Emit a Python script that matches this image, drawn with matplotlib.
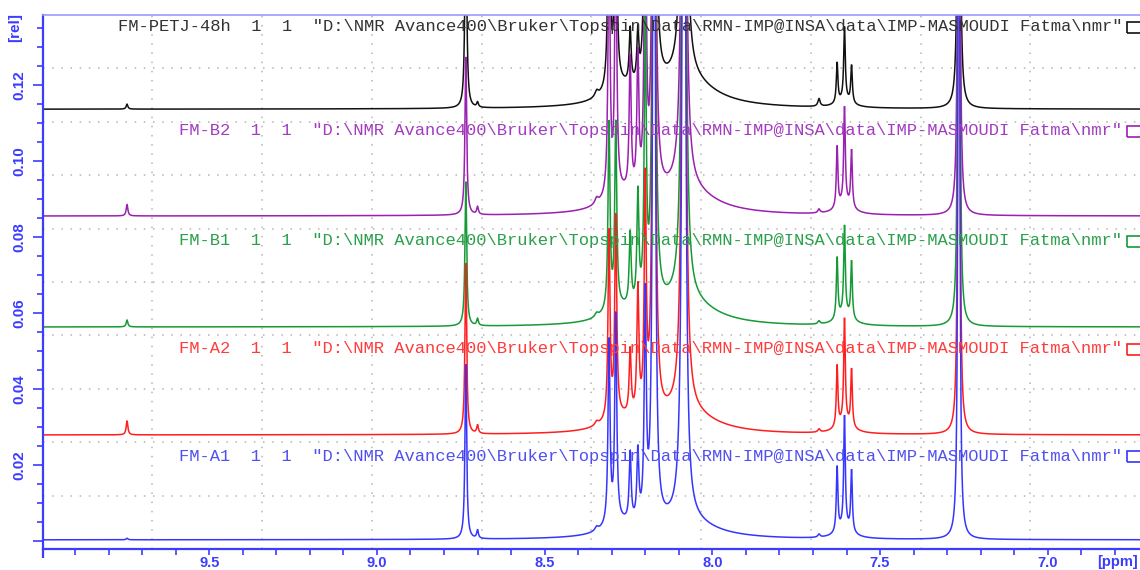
import numpy as np
import matplotlib
matplotlib.use("Agg")
import matplotlib.pyplot as plt
from matplotlib.ticker import MultipleLocator, FuncFormatter
from matplotlib.patches import Rectangle

# ---------------- data ----------------
names = ["FM-PETJ-48h", "FM-B2", "FM-B1", "FM-A2", "FM-A1"]
path_text = '"D:\\NMR Avance400\\Bruker\\Topspin\\Data\\RMN-IMP@INSA\\data\\IMP-MASMOUDI Fatma\\nmr"'
baselines = [0.1136, 0.0855, 0.0563, 0.0279, 0.0003]

# peak list (ppm, half width at half maximum in ppm)
peak_ppm = [9.745, 8.735, 8.700, 8.345, 8.308, 8.288, 8.245, 8.222, 8.200, 8.174,
            8.085, 8.085, 8.280, 7.682, 7.628, 7.606, 7.585, 7.606, 7.265]
peak_hwhm = [0.003, 0.003, 0.003, 0.006, 0.0035, 0.0035, 0.0035, 0.0035, 0.0035, 0.0035,
             0.004, 0.10, 0.05, 0.004, 0.0028, 0.0028, 0.0028, 0.025, 0.002]

heights_black = [0.0013, 0.060, 0.0013, 0.0015, 0.070, 0.070, 0.0145, 0.013, 0.090, 0.30,
                 0.40, 0.008, 0.004, 0.002, 0.0105, 0.019, 0.0098, 0.002, 0.40]
heights_purple = [0.0030, 0.0416, 0.0020, 0.0015, 0.070, 0.070, 0.035, 0.035, 0.090, 0.30,
                  0.40, 0.007, 0.004, 0.001, 0.016, 0.025, 0.015, 0.003, 0.40]
heights_green = [0.0018, 0.038, 0.0018, 0.0010, 0.049, 0.048, 0.019, 0.029, 0.075, 0.30,
                 0.40, 0.007, 0.003, 0.0008, 0.016, 0.023, 0.015, 0.003, 0.40]
heights_red = [0.0037, 0.045, 0.0022, 0.0010, 0.049, 0.052, 0.017, 0.033, 0.060, 0.30,
               0.40, 0.006, 0.003, 0.0008, 0.016, 0.027, 0.015, 0.003, 0.40]
heights_blue = [0.0004, 0.046, 0.0022, 0.0010, 0.048, 0.054, 0.018, 0.018, 0.058, 0.30,
                0.40, 0.005, 0.003, 0.0008, 0.017, 0.029, 0.016, 0.003, 0.40]
all_heights = [heights_black, heights_purple, heights_green, heights_red, heights_blue]

line_colors = ["#111111", "#9b1fb0", "#159a35", "#ff1e1e", "#3535ff"]
text_colors = ["#333333", "#a23cc0", "#2aa04a", "#ff3c3c", "#5050f0"]

# ---------------- figure ----------------
W, H = 1140, 570
fig = plt.figure(figsize=(W / 100, H / 100), dpi=100)
ax_l, ax_b, ax_w, ax_h = 42.5, 21, 1097.5, 534
ax = fig.add_axes([ax_l / W, ax_b / H, ax_w / W, ax_h / H])

xmax, xmin = 9.997, 6.725
ppm = np.linspace(xmax, xmin, 24000)
pp = np.array(peak_ppm)[:, None]
ww = np.array(peak_hwhm)[:, None]

for name, base, hts, lc in zip(names, baselines, all_heights, line_colors):
    hh = np.array(hts)[:, None]
    y = base + np.sum(hh * ww ** 2 / ((ppm[None, :] - pp) ** 2 + ww ** 2), axis=0)
    ax.plot(ppm, y, color=lc, lw=1.1, solid_joinstyle="miter")

ax.set_xlim(xmax, xmin)
ax.set_ylim(-0.0021, 0.1384)

# grid: 10 x 10 equal divisions, dotted
for k in range(1, 10):
    ax.plot([k / 10, k / 10], [0, 1], transform=ax.transAxes, color="#b4b4b4",
            lw=1.1, ls=(0, (1, 5)), zorder=0)
    ax.plot([0, 1], [k / 10, k / 10], transform=ax.transAxes, color="#b4b4b4",
            lw=1.1, ls=(0, (1, 5)), zorder=0)

axis_blue = "#3c3cff"
ax.spines["left"].set_color(axis_blue)
ax.spines["left"].set_linewidth(1.6)
ax.spines["bottom"].set_color(axis_blue)
ax.spines["bottom"].set_linewidth(1.6)
ax.spines["top"].set_color("#9a9aff")
ax.spines["top"].set_linewidth(1.2)
ax.spines["right"].set_visible(False)
# left axis line runs a little below the x axis line
ax.plot([0, 0], [0, -0.016], transform=ax.transAxes, color=axis_blue, lw=1.6,
        clip_on=False, solid_capstyle="butt")

ax.xaxis.set_major_locator(MultipleLocator(0.5))
ax.xaxis.set_minor_locator(MultipleLocator(0.1))
ax.yaxis.set_major_locator(MultipleLocator(0.02))
ax.yaxis.set_minor_locator(MultipleLocator(0.005))
ax.yaxis.set_major_formatter(FuncFormatter(lambda v, p: "" if abs(v) < 1e-9 else f"{v:.2f}"))
ax.xaxis.set_major_formatter(FuncFormatter(lambda v, p: f"{v:.1f}"))

ax.tick_params(axis="x", which="both", direction="out", length=4.5, width=1.2,
               color=axis_blue, top=False)
ax.tick_params(axis="x", which="major", pad=0.5, labelsize=10.5, labelcolor=axis_blue)
ax.tick_params(axis="y", which="major", direction="out", length=7.5, width=1.2,
               color=axis_blue, pad=4, labelsize=11, labelcolor=axis_blue,
               labelrotation=90)
ax.tick_params(axis="y", which="minor", direction="out", length=4.5, width=1.2,
               color=axis_blue)
for lab in ax.get_xticklabels() + ax.get_yticklabels():
    lab.set_fontweight("bold")
    lab.set_family("Liberation Sans")
for lab in ax.get_yticklabels():
    lab.set_va("center")

fig.text(15 / W, 1 - 28 / H, "[rel]", rotation=90, ha="center", va="center",
         color=axis_blue, fontsize=11, fontweight="bold", family="Liberation Sans")
fig.text(1117 / W, 1 - 562 / H, "[ppm]", ha="center", va="center",
         color=axis_blue, fontsize=10.5, fontweight="bold", family="Liberation Sans")

# spectrum titles with a small box at the right edge
label_y_px = [27, 131, 241, 349, 456]
for name, ly, tc, lc in zip(names, label_y_px, text_colors, line_colors):
    yf = 1 - ly / H
    fig.text(1122 / W, yf, f"{name}  1  1  {path_text}", ha="right", va="center",
             color=tc, fontsize=12.3, family="Liberation Mono")
    fig.patches.append(Rectangle((1127 / W, yf - 6 / H), 20 / W, 11 / H,
                                 transform=fig.transFigure, fill=False,
                                 edgecolor=lc, lw=1.2))

fig.savefig("out.png", dpi=100)
